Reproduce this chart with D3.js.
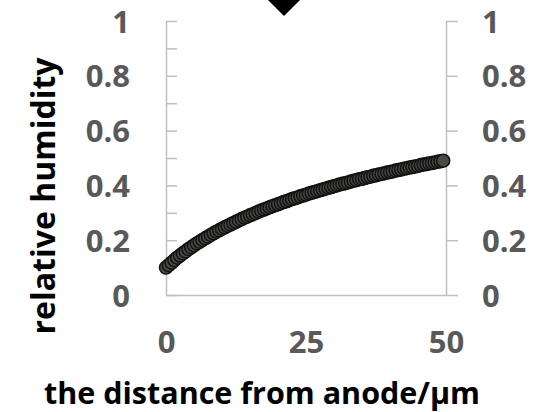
<!DOCTYPE html>
<html>
<head>
<meta charset="utf-8">
<script src="https://cdn.jsdelivr.net/npm/d3@7"></script>
<style>
  html, body { margin: 0; padding: 0; background: #fff; }
  svg { display: block; }
  text { font-family: "Open Sans", "DejaVu Sans", sans-serif; font-weight: bold; }
</style>
</head>
<body>
<svg id="chart" width="535" height="412"></svg>
<script>
// distance from anode (µm)
const distance = [
  0,0.5,1,1.5,2,2.5,3,3.5,4,4.5,5,5.5,6,6.5,7,7.5,8,8.5,9,9.5,
  10,10.5,11,11.5,12,12.5,13,13.5,14,14.5,15,15.5,16,16.5,17,17.5,18,18.5,19,19.5,
  20,20.5,21,21.5,22,22.5,23,23.5,24,24.5,25,25.5,26,26.5,27,27.5,28,28.5,29,29.5,
  30,30.5,31,31.5,32,32.5,33,33.5,34,34.5,35,35.5,36,36.5,37,37.5,38,38.5,39,39.5,
  40,40.5,41,41.5,42,42.5,43,43.5,44,44.5,45,45.5,46,46.5,47,47.5,48,48.5,49,49.5
];
// relative humidity
const humidity = [
  0.100,0.109,0.118,0.127,0.136,0.144,0.152,0.159,0.167,0.174,
  0.181,0.188,0.194,0.201,0.207,0.213,0.219,0.225,0.231,0.236,
  0.242,0.247,0.252,0.257,0.262,0.267,0.272,0.277,0.282,0.286,
  0.291,0.295,0.299,0.304,0.308,0.312,0.316,0.320,0.324,0.328,
  0.331,0.335,0.339,0.342,0.346,0.350,0.353,0.356,0.360,0.363,
  0.366,0.370,0.373,0.376,0.379,0.382,0.385,0.388,0.391,0.394,
  0.397,0.400,0.403,0.406,0.408,0.411,0.414,0.417,0.419,0.422,
  0.424,0.427,0.430,0.432,0.435,0.437,0.440,0.442,0.444,0.447,
  0.449,0.451,0.454,0.456,0.458,0.461,0.463,0.465,0.467,0.469,
  0.471,0.474,0.476,0.478,0.480,0.482,0.484,0.486,0.488,0.490
];
const xTicks = [0, 25, 50];
const yTicksLeftMinor = [0,0.1,0.2,0.3,0.4,0.5,0.6,0.7,0.8,0.9,1];
const yTickLabels = [0, 0.2, 0.4, 0.6, 0.8, 1];
const xTitle = "the distance from anode/μm";
const yTitle = "relative humidity";

const svg = d3.select("#chart");
const plot = { left: 166, right: 446, top: 21, bottom: 295 };
const x = d3.scaleLinear().domain([0, 50]).range([plot.left, plot.right]);
const y = d3.scaleLinear().domain([0, 1]).range([plot.bottom, plot.top]);
const axisColor = "#bfbfbf";
const labelColor = "#595959";
const tickFont = 31;

// top triangle marker
svg.append("path")
  .attr("d", d3.line()([[266, -2], [302, -2], [284, 16]]) + "Z")
  .attr("fill", "#000");

// left axis: line + inward ticks every 0.1
const leftAxis = svg.append("g").attr("transform", `translate(${plot.left},0)`)
  .call(d3.axisRight(y).tickValues(yTicksLeftMinor).tickSize(11).tickFormat("").tickSizeOuter(0));
leftAxis.select(".domain").attr("stroke", axisColor).attr("stroke-width", 1.5);
leftAxis.selectAll(".tick line").attr("stroke", axisColor).attr("stroke-width", 1.5);

// right axis: line + outward ticks every 0.2, labels
const rightAxis = svg.append("g").attr("transform", `translate(${plot.right},0)`)
  .call(d3.axisRight(y).tickValues(yTickLabels).tickSize(12).tickFormat(d3.format("~g")).tickSizeOuter(0).tickPadding(24));
rightAxis.select(".domain").attr("stroke", axisColor).attr("stroke-width", 1.5);
rightAxis.selectAll(".tick line").attr("stroke", axisColor).attr("stroke-width", 1.5);
rightAxis.selectAll(".tick text").attr("fill", labelColor).attr("font-size", tickFont)
  .attr("font-family", "'Open Sans', sans-serif").attr("font-weight", "bold").attr("dy", "0.36em");

// left labels (no visible ticks)
const leftLabels = svg.append("g").attr("transform", `translate(${plot.left},0)`)
  .call(d3.axisLeft(y).tickValues(yTickLabels).tickSize(0).tickFormat(d3.format("~g")).tickPadding(36));
leftLabels.select(".domain").remove();
leftLabels.selectAll(".tick text").attr("fill", labelColor).attr("font-size", tickFont)
  .attr("font-family", "'Open Sans', sans-serif").attr("font-weight", "bold").attr("dy", "0.36em");

// bottom axis
const bottomAxis = svg.append("g").attr("transform", `translate(0,${plot.bottom})`)
  .call(d3.axisBottom(x).tickValues(xTicks).tickSize(0).tickSizeOuter(0).tickPadding(36));
bottomAxis.select(".domain").attr("stroke", axisColor).attr("stroke-width", 1.5);
bottomAxis.selectAll(".tick text").attr("fill", labelColor).attr("font-size", tickFont)
  .attr("font-family", "'Open Sans', sans-serif").attr("font-weight", "bold");

// series markers
const pts = distance.map((d, i) => [d, humidity[i]]);
svg.append("g").selectAll("circle").data(pts).join("circle")
  .attr("cx", d => x(d[0]))
  .attr("cy", d => y(d[1]))
  .attr("r", 6.5)
  .attr("fill", "#4a4a42")
  .attr("stroke", "#111")
  .attr("stroke-width", 1.5);

// axis titles
svg.append("text")
  .attr("x", 262).attr("y", 404)
  .attr("text-anchor", "middle")
  .attr("font-size", 31)
  .attr("fill", "#000")
  .attr("textLength", 436).attr("lengthAdjust", "spacingAndGlyphs")
  .text(xTitle);

svg.append("text")
  .attr("transform", "translate(55,196) rotate(-90)")
  .attr("text-anchor", "middle")
  .attr("font-size", 32)
  .attr("fill", "#000")
  .attr("textLength", 277).attr("lengthAdjust", "spacingAndGlyphs")
  .text(yTitle);
</script>
</body>
</html>
